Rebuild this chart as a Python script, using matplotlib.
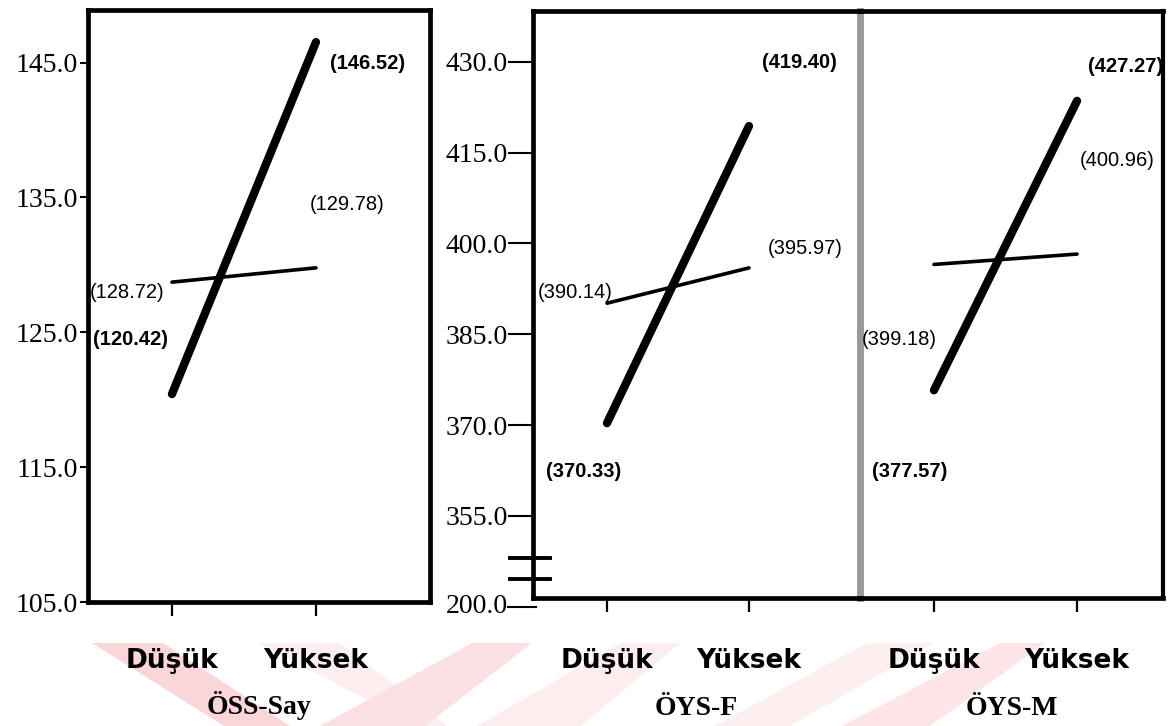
import numpy as np
import matplotlib.pyplot as plt
from matplotlib.patches import Polygon

groups = ["Düşük", "Yüksek"]
panels = ["ÖSS-Say", "ÖYS-F", "ÖYS-M"]

# thick line (bold labels) and thin line (plain labels), one pair per panel
thick_vals = [[120.42, 146.52], [370.33, 419.40], [377.57, 427.27]]
thin_vals = [[128.72, 129.78], [390.14, 395.97], [399.18, 400.96]]

oss_ticks = [105.0, 115.0, 125.0, 135.0, 145.0]
oys_ticks = [355.0, 370.0, 385.0, 400.0, 415.0, 430.0]
oys_bottom_label = "200.0"

W, H = 1168, 726
SERIF = "Liberation Serif"
SANS = "Liberation Sans"


def px_axes(l, t, r, b):
    return [l / W, (H - b) / H, (r - l) / W, (b - t) / H]


fig = plt.figure(figsize=(W / 100, H / 100), dpi=100)

# faint pink watermark stripes behind the bottom labels
stripes = [
    ((92, 163), (224, 290), "#fad6d9"),
    ((258, 340), (418, 447), "#fdeef0"),
    ((472, 532), (320, 425), "#fbe1e4"),
    ((621, 680), (477, 581), "#fdedef"),
    ((867, 934), (715, 790), "#fdeef0"),
    ((1000, 1045), (842, 930), "#fce4e7"),
]
y_top, y_bot = 643, 726
for (t0, t1), (b0, b1), c in stripes:
    pts = [(t0 / W, 1 - y_top / H), (t1 / W, 1 - y_top / H),
           (b1 / W, 1 - y_bot / H), (b0 / W, 1 - y_bot / H)]
    fig.patches.append(Polygon(pts, closed=True, transform=fig.transFigure,
                               facecolor=c, edgecolor="none", zorder=-10))

ax1 = fig.add_axes(px_axes(88, 10, 430, 602))
ax2 = fig.add_axes(px_axes(533, 11, 860, 598))
ax3 = fig.add_axes(px_axes(860, 11, 1163, 598))
axes = [ax1, ax2, ax3]

ax1.set_xlim(-0.583, 1.792)
ax1.set_ylim(105.0, 148.9)
ax2.set_xlim(-0.521, 1.782)
ax2.set_ylim(341.45, 438.4)
ax3.set_xlim(-0.517, 1.601)
ax3.set_ylim(341.9, 442.7)

# label positions in axes fractions: thick left, thick right, thin left, thin right
label_pos = [
    [(0.015, 0.443), (0.708, 0.910), (0.006, 0.522), (0.649, 0.671)],
    [(0.040, 0.215), (0.700, 0.913), (0.015, 0.520), (0.719, 0.596)],
    [(0.040, 0.215), (0.752, 0.905), (0.007, 0.440), (0.726, 0.746)],
]

x = np.arange(len(groups))
for i, ax in enumerate(axes):
    ax.set_facecolor("none")
    ax.plot(x, thick_vals[i], color="black", lw=6, solid_capstyle="round")
    ax.plot(x, thin_vals[i], color="black", lw=2.6, solid_capstyle="round")
    vals = [thick_vals[i][0], thick_vals[i][1], thin_vals[i][0], thin_vals[i][1]]
    for j, (v, (fx, fy)) in enumerate(zip(vals, label_pos[i])):
        ax.text(fx, fy, f"({v:.2f})", transform=ax.transAxes, ha="left",
                va="center", fontsize=14.5, family=SANS,
                fontweight="bold" if j < 2 else "normal")

    ax.set_xticks(x)
    ax.set_xticklabels(groups, fontsize=19, fontweight="bold", family="DejaVu Sans")
    ax.tick_params(axis="x", length=10, width=1.6, direction="out",
                   pad=23 if i == 0 else 26)
    ax.set_xlabel(panels[i], fontsize=20, fontweight="bold", family=SERIF,
                  labelpad=12 if i == 0 else 16)
    for s in ax.spines.values():
        s.set_linewidth(3.4)
        s.set_color("black")

# panel 1 y axis
ax1.set_yticks(oss_ticks)
ax1.set_yticklabels([f"{t:.1f}" for t in oss_ticks], fontsize=20, family=SERIF)
ax1.tick_params(axis="y", length=6, width=1.5, pad=1)

# panel 2 y axis (shared scale of ÖYS), with a broken bottom
ax2.set_yticks(oys_ticks)
ax2.set_yticklabels([f"{t:.1f}" for t in oys_ticks], fontsize=20, family=SERIF)
ax2.tick_params(axis="y", length=18, width=1.5, pad=0)
ax2.spines["right"].set_color("#9a9a9a")
ax2.spines["right"].set_linewidth(5)
trans = ax2.get_yaxis_transform()
ax2.plot([-25 / 327, 0.01], [340, 340], transform=trans, color="black",
         lw=1.5, clip_on=False)
ax2.text(-25 / 327, 340, oys_bottom_label, transform=trans, ha="right",
         va="center", fontsize=20, family=SERIF, clip_on=False)
for yb in (348.1, 344.6):
    ax2.plot([-0.07, 0.052], [yb, yb], transform=trans, color="black",
             lw=2.8, clip_on=False)

# panel 3 has no y axis of its own
ax3.set_yticks([])
ax3.spines["left"].set_visible(False)
ax3.spines["right"].set_linewidth(3.0)

fig.savefig("out.png", dpi=100)
